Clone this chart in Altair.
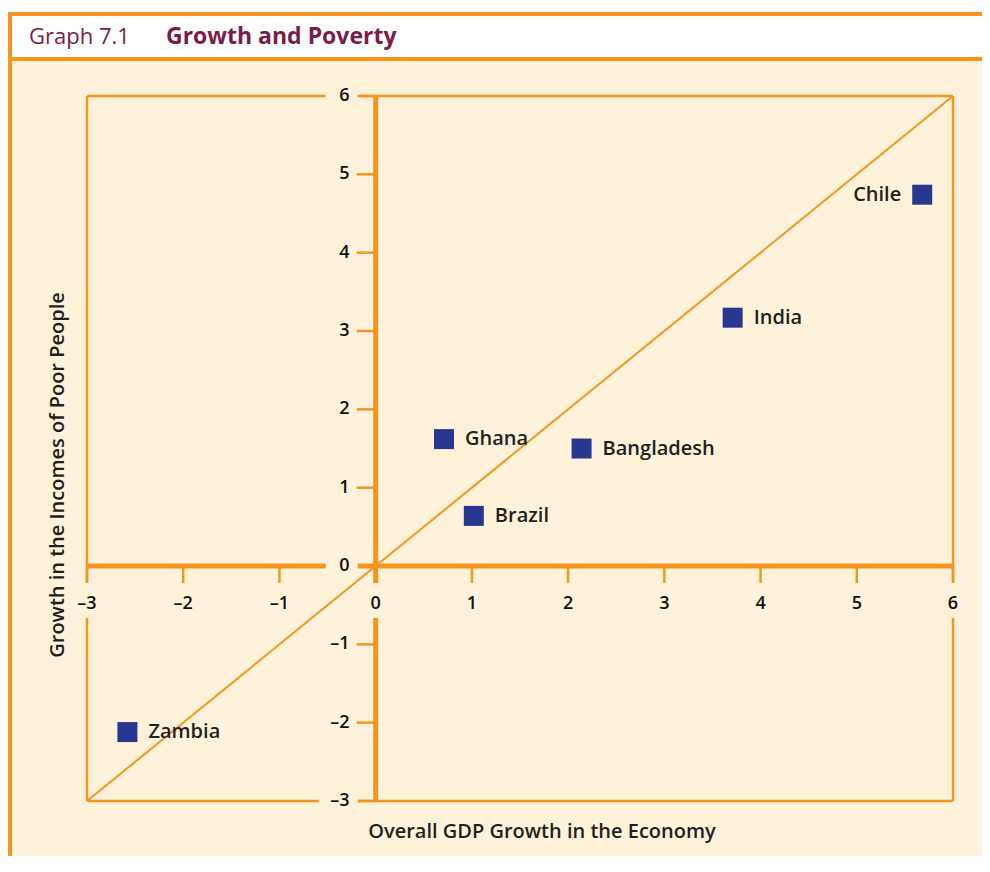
import altair as alt
import pandas as pd

# ---- data ----
countries = ["Chile", "India", "Bangladesh", "Ghana", "Brazil", "Zambia"]
gdp_growth = [5.68, 3.71, 2.14, 0.71, 1.02, -2.58]
poor_growth = [4.74, 3.17, 1.50, 1.62, 0.64, -2.12]
tick_values = [-3, -2, -1, 0, 1, 2, 3, 4, 5, 6]
tick_labels = ["–3", "–2", "–1", "0", "1", "2", "3", "4", "5", "6"]

ORANGE = "#F7941D"
CREAM = "#FEF3DA"
BLUE = "#283891"
MAROON = "#7A1C4A"
INK = "#231F20"
FONT = "Open Sans"

W, H = 866, 705
PAD = {"left": 79, "top": 88, "right": 29, "bottom": 55}
xs = alt.Scale(domain=[-3, 6], nice=False, zero=False)
ys = alt.Scale(domain=[-3, 6], nice=False, zero=False)

pts = pd.DataFrame({"country": countries, "gdp": gdp_growth, "poor": poor_growth})
ticks = pd.DataFrame({"v": tick_values, "label": tick_labels})
one = pd.DataFrame({"k": [0]})

lo, hi = tick_values[0], tick_values[-1]
frame_df = pd.DataFrame({"x": [lo, lo, lo, hi], "y": [hi, lo, lo, lo],
                         "x2": [hi, hi, lo, hi], "y2": [hi, lo, hi, hi]})
axes_df = pd.DataFrame({"x": [0, lo], "y": [lo, 0], "x2": [0, hi], "y2": [hi, 0]})
diag_df = pd.DataFrame({"x": [lo], "y": [lo], "x2": [hi], "y2": [hi]})


def prect(x1, x2, y1, y2, color):
    return alt.Chart(one).mark_rect(color=color).encode(
        x=alt.value(x1), x2=alt.value(x2), y=alt.value(y1), y2=alt.value(y2))


def segs(df, width):
    return alt.Chart(df).mark_rule(color=ORANGE, strokeWidth=width).encode(
        x=alt.X("x:Q", scale=xs, axis=None), y=alt.Y("y:Q", scale=ys, axis=None),
        x2="x2:Q", y2="y2:Q")


right_edge = W + PAD["right"]
bottom_edge = H + PAD["bottom"]
# page decorations (pixel positions)
decor = [
    prect(-79, right_edge, -88, -84, "white"),
    prect(-79, right_edge, -84, -80, ORANGE),
    prect(-75, right_edge, -80, -39, "white"),
    prect(-75, right_edge, -39, -35, ORANGE),
    prect(-79, -75, -84, bottom_edge, ORANGE),
]

frame = segs(frame_df, 2.5)
axes = segs(axes_df, 5)
diag = segs(diag_df, 2)

xticks = alt.Chart(ticks).mark_rule(color=ORANGE, strokeWidth=2.5, y2Offset=17).encode(
    x=alt.X("v:Q", scale=xs, axis=None),
    y=alt.YDatum(0, scale=ys, axis=None), y2=alt.Y2Datum(0))
yticks = alt.Chart(ticks).mark_rule(color=ORANGE, strokeWidth=2.5, xOffset=-19).encode(
    y=alt.Y("v:Q", scale=ys, axis=None),
    x=alt.XDatum(0, scale=xs, axis=None), x2=alt.X2Datum(0))

edge_vals = alt.FieldOneOfPredicate(field="v", oneOf=[lo, 0, hi])
xgaps = alt.Chart(ticks).transform_filter(edge_vals).mark_rect(
    color=CREAM, xOffset=-10, x2Offset=10, yOffset=17, y2Offset=52).encode(
    x=alt.X("v:Q", scale=xs, axis=None), x2="v:Q",
    y=alt.YDatum(0, scale=ys, axis=None), y2=alt.Y2Datum(0))
ygaps_pos = alt.Chart(ticks).transform_filter(
    alt.FieldOneOfPredicate(field="v", oneOf=[0, hi])).mark_rect(
    color=CREAM, xOffset=-50, x2Offset=-18, yOffset=-6, y2Offset=6).encode(
    y=alt.Y("v:Q", scale=ys, axis=None), y2="v:Q",
    x=alt.XDatum(0, scale=xs, axis=None), x2=alt.X2Datum(0))
ygaps_neg = alt.Chart(ticks).transform_filter(
    alt.FieldOneOfPredicate(field="v", oneOf=[lo])).mark_rect(
    color=CREAM, xOffset=-57, x2Offset=-18, yOffset=-6, y2Offset=6).encode(
    y=alt.Y("v:Q", scale=ys, axis=None), y2="v:Q",
    x=alt.XDatum(0, scale=xs, axis=None), x2=alt.X2Datum(0))

tick_font = dict(font=FONT, fontSize=18, fontWeight=600, color="#111111", baseline="middle")
xlabels = alt.Chart(ticks).mark_text(align="center", dy=38, **tick_font).encode(
    x=alt.X("v:Q", scale=xs, axis=None),
    y=alt.YDatum(0, scale=ys, axis=None), text="label:N")
ylabels = alt.Chart(ticks).mark_text(align="right", dx=-26, **tick_font).encode(
    y=alt.Y("v:Q", scale=ys, axis=None),
    x=alt.XDatum(0, scale=xs, axis=None), text="label:N")

points = alt.Chart(pts).mark_square(size=400, filled=True, opacity=1, color=BLUE).encode(
    x=alt.X("gdp:Q", scale=xs, axis=None), y=alt.Y("poor:Q", scale=ys, axis=None))

lab_font = dict(font=FONT, fontSize=20, fontWeight=600, color=INK, baseline="middle")
labels_r = alt.Chart(pts).transform_filter(alt.datum.country != "Chile").mark_text(
    align="left", dx=21, **lab_font).encode(
    x=alt.X("gdp:Q", scale=xs, axis=None), y=alt.Y("poor:Q", scale=ys, axis=None),
    text="country:N")
labels_l = alt.Chart(pts).transform_filter(alt.datum.country == "Chile").mark_text(
    align="right", dx=-21, **lab_font).encode(
    x=alt.X("gdp:Q", scale=xs, axis=None), y=alt.Y("poor:Q", scale=ys, axis=None),
    text="country:N")

title_font = dict(font=FONT, fontSize=20, fontWeight=600, color=INK, baseline="middle",
                  align="center")
xtitle = alt.Chart(one).mark_text(**title_font).encode(
    x=alt.value(455), y=alt.value(736), text=alt.value("Overall GDP Growth in the Economy"))
ytitle = alt.Chart(one).mark_text(angle=270, **title_font).encode(
    x=alt.value(-29), y=alt.value(379), text=alt.value("Growth in the Incomes of Poor People"))

head1 = alt.Chart(one).mark_text(font=FONT, fontSize=22, fontWeight="normal", color=MAROON,
                                 align="left", baseline="alphabetic").encode(
    x=alt.value(-58), y=alt.value(-52), text=alt.value("Graph 7.1"))
head2 = alt.Chart(one).mark_text(font=FONT, fontSize=23, fontWeight="bold", color=MAROON,
                                 align="left", baseline="alphabetic").encode(
    x=alt.value(79), y=alt.value(-52), text=alt.value("Growth and Poverty"))

chart = alt.layer(
    *decor, frame, axes, xticks, yticks, diag, xgaps, ygaps_pos, ygaps_neg,
    xlabels, ylabels, points, labels_r, labels_l, xtitle, ytitle, head1, head2
).properties(
    width=W, height=H,
    padding=PAD,
    autosize=alt.AutoSizeParams(type="none"),
    background=CREAM,
).configure_view(stroke=None)

chart.save("out.html", embed_options={"renderer": "svg", "actions": False})
